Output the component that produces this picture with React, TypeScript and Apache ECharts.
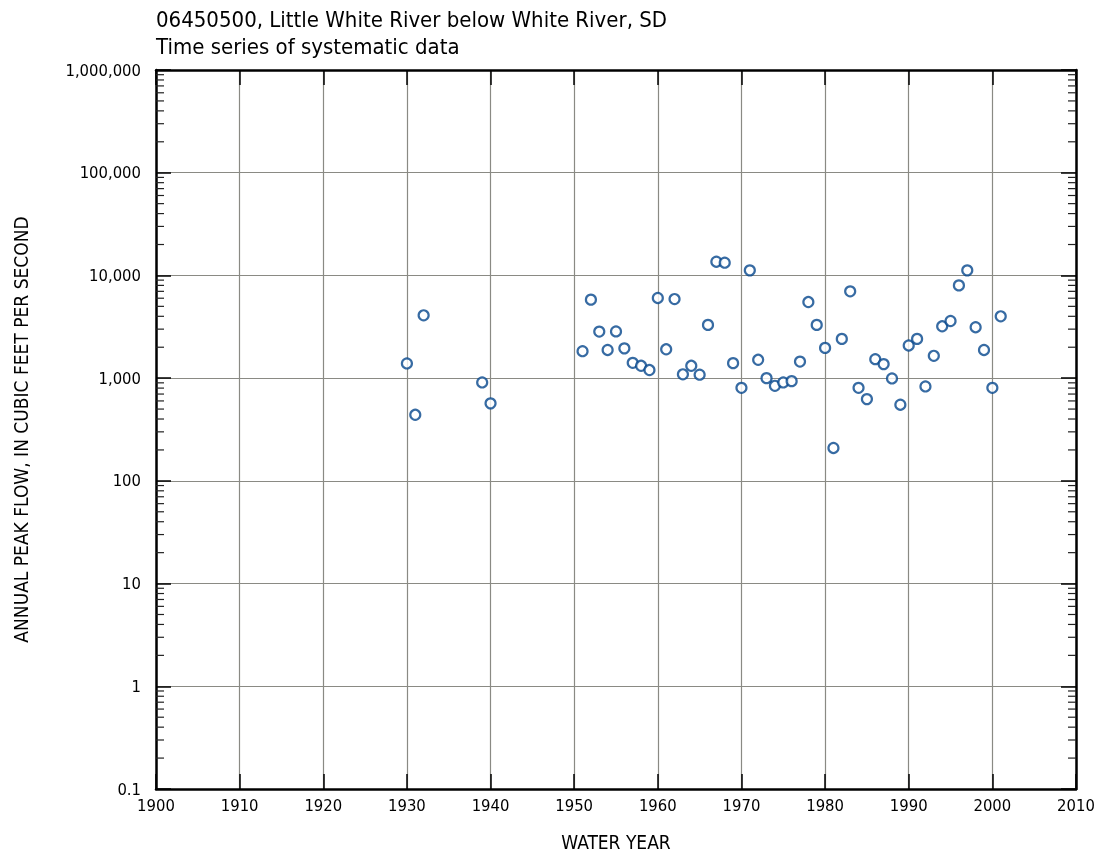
import React, { useEffect, useRef } from "react";
import * as echarts from "echarts";

const years = [
  1930, 1931, 1932, 1939, 1940, 1951, 1952, 1953, 1954, 1955, 1956, 1957, 1958, 1959,
  1960, 1961, 1962, 1963, 1964, 1965, 1966, 1967, 1968, 1969, 1970, 1971, 1972, 1973,
  1974, 1975, 1976, 1977, 1978, 1979, 1980, 1981, 1982, 1983, 1984, 1985, 1986, 1987,
  1988, 1989, 1990, 1991, 1992, 1993, 1994, 1995, 1996, 1997, 1998, 1999, 2000, 2001,
];
const peaks = [
  1390, 440, 4090, 908, 568, 1830, 5810, 2840, 1880, 2850, 1950, 1410, 1320, 1200,
  6030, 1910, 5890, 1090, 1320, 1080, 3300, 13600, 13300, 1400, 805, 11200, 1510, 1000,
  842, 908, 935, 1450, 5510, 3300, 1970, 209, 2410, 7000, 805, 625, 1530, 1370,
  993, 551, 2080, 2410, 830, 1650, 3200, 3600, 8000, 11200, 3130, 1880, 805, 4000,
];
const decadeStarts = [0.1, 1, 10, 100, 1000, 10000, 100000];
const minorMultipliers = [2, 3, 4, 5, 6, 7, 8, 9];

const FONT = "'DejaVu Sans Condensed', 'Liberation Sans Narrow', sans-serif";

export default function App() {
  const ref = useRef<HTMLDivElement>(null);
  useEffect(() => {
    if (!ref.current) return;
    const chart = echarts.init(ref.current, undefined, { renderer: "svg" });
    const minorVals: number[][] = [];
    decadeStarts.forEach((d) => minorMultipliers.forEach((m) => minorVals.push([1900, Number((d * m).toPrecision(6))])));

    const fmtY = (v: number) => {
      const r = Number(v.toPrecision(6));
      return r >= 1 ? r.toLocaleString("en-US") : String(r);
    };

    const commonX = {
      type: "value",
      min: 1900,
      max: 2010,
      interval: 10,
    };
    const commonY = {
      type: "log",
      logBase: 10,
      min: 0.1,
      max: 1000000,
      splitNumber: 7,
    };

    chart.setOption({
      animation: false,
      textStyle: { fontFamily: FONT },
      title: {
        text: "06450500, Little White River below White River, SD\nTime series of systematic data",
        left: 151,
        top: 1,
        textStyle: { fontFamily: FONT, fontSize: 22, fontWeight: "normal", color: "#000", lineHeight: 27 },
      },
      grid: { left: 156, right: 25, top: 70, bottom: 65 },
      xAxis: [
        {
          ...commonX,
          position: "bottom",
          name: "WATER YEAR",
          nameLocation: "middle",
          nameGap: 43,
          nameTextStyle: { fontFamily: FONT, fontSize: 19, color: "#000" },
          axisLine: { lineStyle: { color: "#000", width: 2.5 } },
          axisTick: { inside: true, length: 15, lineStyle: { color: "#000", width: 1.5 } },
          axisLabel: { fontFamily: FONT, fontSize: 16.5, color: "#000", margin: 8, formatter: (v: number) => String(v) },
          splitLine: { show: true, lineStyle: { color: "#8a8a84", width: 1.2 } },
        },
        {
          ...commonX,
          position: "top",
          axisLine: { lineStyle: { color: "#000", width: 2.5 } },
          axisTick: { inside: true, length: 15, lineStyle: { color: "#000", width: 1.5 } },
          axisLabel: { show: false },
          splitLine: { show: false },
        },
      ],
      yAxis: [
        {
          ...commonY,
          position: "left",
          name: "ANNUAL PEAK FLOW, IN CUBIC FEET PER SECOND",
          nameLocation: "middle",
          nameGap: 126,
          nameTextStyle: { fontFamily: FONT, fontSize: 19, color: "#000" },
          axisLine: { show: true, lineStyle: { color: "#000", width: 2.5 } },
          axisTick: { show: true, inside: true, length: 15, lineStyle: { color: "#000", width: 1.5 } },
          axisLabel: { fontFamily: FONT, fontSize: 16.5, color: "#000", margin: 15, formatter: fmtY },
          splitLine: { show: true, lineStyle: { color: "#8a8a84", width: 1.2 } },
          minorTick: { show: false },
        },
        {
          ...commonY,
          position: "right",
          axisLine: { show: true, lineStyle: { color: "#000", width: 2.5 } },
          axisTick: { show: true, inside: true, length: 15, lineStyle: { color: "#000", width: 1.5 } },
          axisLabel: { show: false },
          splitLine: { show: false },
        },
      ],
      series: [
        {
          type: "custom",
          xAxisIndex: 0,
          yAxisIndex: 0,
          silent: true,
          clip: false,
          data: minorVals,
          renderItem: (params: any, api: any) => {
            const v = api.value(1);
            const pL = api.coord([1900, v]);
            const pR = api.coord([2010, v]);
            const style = { stroke: "#222", lineWidth: 1.2 };
            return {
              type: "group",
              children: [
                { type: "line", shape: { x1: pL[0], y1: pL[1], x2: pL[0] + 8, y2: pL[1] }, style },
                { type: "line", shape: { x1: pR[0] - 8, y1: pR[1], x2: pR[0], y2: pR[1] }, style },
              ],
            };
          },
        },
        {
          type: "scatter",
          xAxisIndex: 0,
          yAxisIndex: 0,
          symbol: "circle",
          symbolSize: 10,
          itemStyle: { color: "#ffffff", borderColor: "#05468c", borderWidth: 2.2 },
          data: years.map((y, i) => [y, peaks[i]]),
        },
      ],
    });
    return () => chart.dispose();
  }, []);
  return <div ref={ref} style={{ position: "fixed", left: 0, top: 0, width: 1101, height: 856 }} />;
}
